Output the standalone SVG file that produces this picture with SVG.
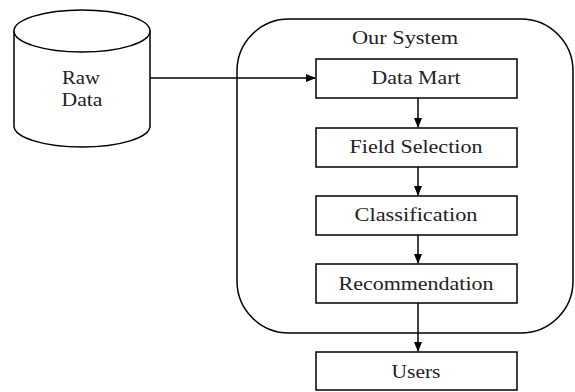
<svg xmlns="http://www.w3.org/2000/svg" width="575" height="392" viewBox="0 0 575 392">
<style>
.s{fill:#fff;stroke:#000;stroke-width:1.5}
.t{font-family:"Liberation Serif","Times New Roman",serif;font-size:18px;fill:#222;text-anchor:middle}
.c{stroke:#000;stroke-width:1.5;fill:none}
</style>
<defs>
<marker id="a" markerWidth="10" markerHeight="8" refX="9" refY="4" orient="auto" markerUnits="userSpaceOnUse">
<path d="M0,0 L10,4 L0,8 Z" fill="#000"/>
</marker>
</defs>
<rect width="575" height="392" fill="#fff"/>
<g id="raw-data">
<path class="s" d="M14,31 L14,126 A68,21 0 0 0 150,126 L150,31"/>
<ellipse class="s" cx="82" cy="31" rx="68" ry="21"/>
<text class="t" x="81" y="84" textLength="38" lengthAdjust="spacingAndGlyphs">Raw</text>
<text class="t" x="82" y="106" textLength="41" lengthAdjust="spacingAndGlyphs">Data</text>
</g>
<g id="our-system">
<rect class="s" x="237" y="19" width="336" height="314" rx="52" ry="52"/>
<text class="t" x="405" y="44" textLength="106" lengthAdjust="spacingAndGlyphs">Our System</text>
</g>
<g id="data-mart">
<rect class="s" x="316" y="59" width="201" height="39"/>
<text class="t" x="416" y="84" textLength="89" lengthAdjust="spacingAndGlyphs">Data Mart</text>
</g>
<g id="field-selection">
<rect class="s" x="316" y="128" width="201" height="39"/>
<text class="t" x="416" y="153" textLength="133" lengthAdjust="spacingAndGlyphs">Field Selection</text>
</g>
<g id="classification">
<rect class="s" x="316" y="196" width="201" height="39"/>
<text class="t" x="416" y="221" textLength="123" lengthAdjust="spacingAndGlyphs">Classification</text>
</g>
<g id="recommendation">
<rect class="s" x="316" y="264" width="201" height="39"/>
<text class="t" x="416" y="290" textLength="155" lengthAdjust="spacingAndGlyphs">Recommendation</text>
</g>
<g id="users">
<rect class="s" x="316" y="352" width="201" height="38"/>
<text class="t" x="416" y="378" textLength="49" lengthAdjust="spacingAndGlyphs">Users</text>
</g>
<g id="connectors">
<line class="c" x1="150" y1="78" x2="315" y2="78" marker-end="url(#a)"/>
<line class="c" x1="418" y1="98" x2="418" y2="127" marker-end="url(#a)"/>
<line class="c" x1="418" y1="167" x2="418" y2="195" marker-end="url(#a)"/>
<line class="c" x1="418" y1="235" x2="418" y2="263" marker-end="url(#a)"/>
<line class="c" x1="418" y1="303" x2="418" y2="351" marker-end="url(#a)"/>
</g>
</svg>
